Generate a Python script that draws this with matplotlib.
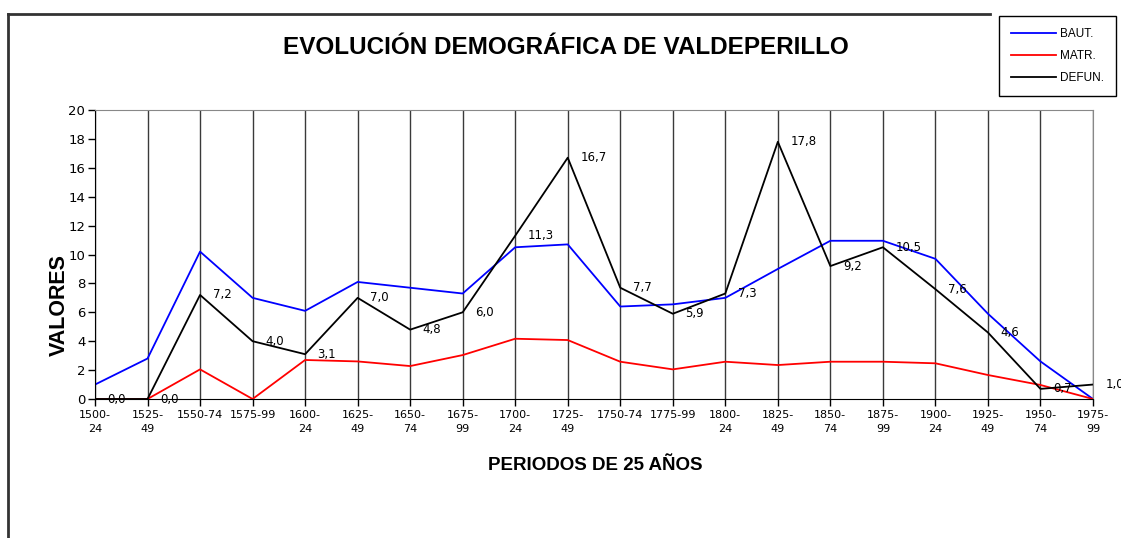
import matplotlib
matplotlib.use('Agg')
import matplotlib.pyplot as plt
from matplotlib.lines import Line2D

# Periods and the three series
periodos = ['1500-\n24', '1525-\n49', '1550-74', '1575-99', '1600-\n24', '1625-\n49',
            '1650-\n74', '1675-\n99', '1700-\n24', '1725-\n49', '1750-74', '1775-99',
            '1800-\n24', '1825-\n49', '1850-\n74', '1875-\n99', '1900-\n24', '1925-\n49',
            '1950-\n74', '1975-\n99']
baut = [1.0, 2.8, 10.2, 7.0, 6.1, 8.1, 7.7, 7.3, 10.5, 10.7,
        6.4, 6.55, 7.0, 9.0, 10.95, 10.95, 9.7, 5.9, 2.6, 0.0]
matr = [0.0, 0.0, 2.05, 0.0, 2.7, 2.6, 2.28, 3.04, 4.17, 4.08,
        2.58, 2.05, 2.58, 2.35, 2.58, 2.58, 2.47, 1.66, 0.97, 0.0]
defun = [0.0, 0.0, 7.2, 4.0, 3.1, 7.0, 4.8, 6.0, 11.3, 16.7,
         7.7, 5.9, 7.3, 17.8, 9.2, 10.5, 7.6, 4.6, 0.7, 1.0]

W, H = 1121, 538
fig = plt.figure(figsize=(W / 100, H / 100), dpi=100)
ax = fig.add_axes([95 / W, 1 - 399 / H, (1093 - 95) / W, (399 - 110) / H])

x = list(range(len(periodos)))
ax.plot(x, baut, color='#0000ff', lw=1.3, label='BAUT.')
ax.plot(x, matr, color='#ff0000', lw=1.3, label='MATR.')
ax.plot(x, defun, color='#000000', lw=1.3, label='DEFUN.')

# value labels on DEFUN. (last one runs off the edge, as in the original)
for i, v in enumerate(defun):
    ax.annotate('{:.1f}'.format(v).replace('.', ','), (i, v), xytext=(9, 0),
                textcoords='offset points', ha='left', va='center',
                fontsize=8.5, annotation_clip=False)

ax.set_xlim(0, len(periodos) - 1)
ax.set_ylim(0, 20)
ax.set_yticks(range(0, 21, 2))
ax.set_xticks(x)
ax.set_xticklabels(periodos, fontsize=8, linespacing=1.5)
ax.tick_params(axis='y', labelsize=9.5, length=5, width=1, pad=2)
ax.tick_params(axis='x', length=5, width=1, pad=3)
ax.grid(axis='x', color='#3a3a3a', lw=1)
ax.set_axisbelow(True)
for s in ['top', 'right']:
    ax.spines[s].set_color('#888888')
for s in ['left', 'bottom']:
    ax.spines[s].set_color('black')

fig.text(566 / W, 1 - 48 / H, 'EVOLUCIÓN DEMOGRÁFICA DE VALDEPERILLO',
         ha='center', va='center', fontsize=17.5, fontweight='bold',
         family='Liberation Sans')
fig.text(59 / W, 1 - 305 / H, 'VALORES', rotation=90, ha='center', va='center',
         fontsize=15.5, fontweight='bold', family='Liberation Sans')
fig.text(595 / W, 1 - 465 / H, 'PERIODOS DE 25 AÑOS', ha='center', va='center',
         fontsize=13.5, fontweight='bold', family='Liberation Sans')

fig.legend(loc='upper right', bbox_to_anchor=(1122 / W, 1 - 10 / H),
           frameon=True, fancybox=False, edgecolor='black', framealpha=1,
           prop={'family': 'Liberation Sans', 'size': 8.5}, handlelength=3.8,
           handletextpad=0.35, labelspacing=0.85, borderpad=1.0)

# outer chart frame
fig.add_artist(Line2D([8 / W, 8 / W], [0, 1 - 14 / H], color='#333333', lw=2,
                      transform=fig.transFigure))
fig.add_artist(Line2D([8 / W, 990 / W], [1 - 14 / H, 1 - 14 / H], color='#333333',
                      lw=2, transform=fig.transFigure))

fig.savefig('out.png', dpi=100)
